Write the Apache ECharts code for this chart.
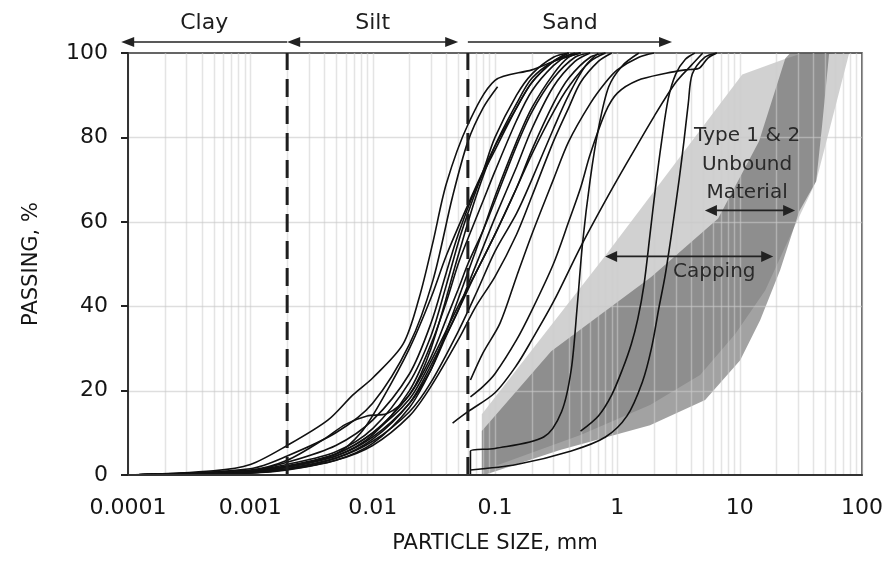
<!DOCTYPE html>
<html>
<head>
<meta charset="utf-8">
<script src="https://cdn.jsdelivr.net/npm/echarts@6/dist/echarts.min.js"></script>
<style>
  html, body { margin: 0; padding: 0; background: #fff; }
  #chart { width: 889px; height: 563px; }
</style>
</head>
<body>
<div id="chart"></div>
<script>
const FONT = '"DejaVu Sans", "Liberation Sans", sans-serif';

// Axis tick labels
const xTickLabels = ['0.0001', '0.001', '0.01', '0.1', '1', '10', '100'];
const yTickValues = [0, 20, 40, 60, 80, 100];

// Soil class bands along the top (particle size, mm)
const soilClassNames = ['Clay', 'Silt', 'Sand'];
const soilClassRanges = [[0.000088, 0.002], [0.002, 0.05], [0.06, 2.8]];
const soilClassHeads = [[true, false], [true, true], [false, true]];
const soilBoundaries = [0.002, 0.06];

// Specification envelopes [size mm, % passing]
const cappingEnvelope = [
  [0.078, 1.2], [0.078, 14.4], [0.78, 51.6], [10.5, 94.9], [24, 98.7], [33, 100],
  [78.6, 100], [42.2, 69.6], [28.4, 59.2], [16.2, 43.8], [9.2, 33.4], [4.75, 23.7],
  [1.85, 16.6], [0.5, 9.5], [0.0815, 1.2]
];
const type12Envelope = [
  [0.078, 0], [0.078, 10.4], [0.288, 29.3], [1.89, 46.9], [6.67, 60.8], [14.4, 79.1],
  [23.6, 98.7], [25.9, 100], [53.9, 100], [47.3, 83.1], [42.2, 69.6], [30.7, 62.5],
  [21.4, 48.5], [14.7, 36.7], [10.1, 27.2], [5.22, 17.8], [1.85, 11.8], [0.34, 5.9],
  [0.0815, 0]
];

// Range annotations: [from mm, to mm, % passing]
const type12Range = [5.2, 28.4, 62.7];
const cappingRange = [0.795, 18.8, 51.8];
const envelopeLabels = [
  { text: 'Type 1 & 2', at: [11.5, 80.3] },
  { text: 'Unbound', at: [11.5, 73.6] },
  { text: 'Material', at: [11.5, 66.8] },
  { text: 'Capping', at: [6.2, 48.2] }
];

// Grading curves of the tested soils [size mm, % passing]
const fine01 = [[0.0001,0],[0.0005,1],[0.001,2.5],[0.002,7],[0.0043,13],[0.0069,19],[0.01,23],[0.0177,31],[0.024,42],[0.031,55],[0.04,69],[0.06,83],[0.1,93.5],[0.2,96],[0.3,98],[0.5,100]];
const fine02 = [[0.0001,0],[0.001,1.5],[0.002,4.5],[0.005,10],[0.01,17],[0.02,31],[0.031,46],[0.045,66],[0.06,79],[0.08,87],[0.105,92]];
const fine03 = [[0.0001,0],[0.001,1.2],[0.002,3.5],[0.004,8.5],[0.006,12],[0.009,14],[0.013,14.5],[0.02,19],[0.03,30],[0.05,52],[0.07,66],[0.1,78],[0.15,88],[0.2,94],[0.3,98],[0.45,100]];
const fine04 = [[0.0001,0],[0.0005,0.5],[0.001,1],[0.002,2.5],[0.005,5.5],[0.01,11],[0.02,22],[0.03,33],[0.04,45],[0.05,55],[0.06,62],[0.08,72],[0.1,80],[0.15,90],[0.2,95],[0.3,99],[0.4,100]];
const fine05 = [[0.0001,0],[0.001,1],[0.002,2],[0.005,5],[0.01,10],[0.02,19],[0.03,28],[0.04,37],[0.05,44],[0.06,50],[0.08,58],[0.1,65],[0.15,78],[0.2,86],[0.3,94],[0.45,99],[0.6,100]];
const fine06 = [[0.0001,0],[0.001,0.8],[0.002,2],[0.005,4.5],[0.01,9],[0.02,17],[0.03,25],[0.04,33],[0.05,39],[0.06,45],[0.08,54],[0.1,61],[0.15,73],[0.2,82],[0.3,92],[0.45,98],[0.6,100]];
const fine07 = [[0.0001,0],[0.001,1],[0.002,2.2],[0.005,5],[0.01,10],[0.02,18],[0.03,27],[0.05,40],[0.07,48],[0.1,57],[0.15,68],[0.2,77],[0.3,88],[0.4,94],[0.6,99],[0.8,100]];
const fine08 = [[0.0001,0],[0.001,0.7],[0.002,1.5],[0.005,4],[0.01,8],[0.02,15],[0.03,22],[0.05,34],[0.07,43],[0.1,53],[0.15,62],[0.2,70],[0.3,82],[0.4,90],[0.55,97],[0.7,100]];
const fine09 = [[0.0001,0],[0.001,0.5],[0.002,1.2],[0.005,3.5],[0.01,7.5],[0.02,16],[0.03,25],[0.04,34],[0.06,48],[0.08,58],[0.1,66],[0.15,79],[0.2,87],[0.3,95],[0.4,99],[0.5,100]];
const fine10 = [[0.0001,0],[0.001,0.8],[0.002,2],[0.005,5],[0.008,10],[0.012,18],[0.02,30],[0.03,42],[0.04,52],[0.06,64],[0.08,72],[0.1,78],[0.15,87],[0.2,93],[0.3,98],[0.4,100]];
const fine11 = [[0.0001,0],[0.001,1],[0.002,3],[0.005,7],[0.01,13],[0.02,24],[0.03,36],[0.04,48],[0.05,57],[0.07,68],[0.1,77],[0.15,87],[0.2,93],[0.3,98],[0.4,100]];
const fine12 = [[0.0001,0],[0.001,0.5],[0.002,1.5],[0.005,4],[0.01,8.5],[0.02,17],[0.03,26],[0.05,39],[0.07,48],[0.1,57],[0.15,68],[0.2,76],[0.3,86],[0.4,92],[0.6,98],[0.8,100]];
const fine13 = [[0.0001,0],[0.001,0.6],[0.002,1.8],[0.005,4.5],[0.01,9.5],[0.02,20],[0.03,31],[0.04,41],[0.05,50],[0.06,56],[0.08,65],[0.1,72],[0.15,84],[0.2,91],[0.3,97],[0.4,99.5],[0.5,100]];
const fine14 = [[0.0001,0],[0.001,0.5],[0.002,1.3],[0.005,3.5],[0.01,7],[0.02,14],[0.03,21],[0.05,32],[0.07,40],[0.1,47],[0.15,57],[0.2,66],[0.3,79],[0.4,87],[0.5,93],[0.7,98],[0.9,100]];
const sand01 = [[0.045,12.3],[0.06,15],[0.1,19.5],[0.15,26],[0.2,32],[0.3,41],[0.5,54],[0.8,65],[1.2,74],[2,85],[3,93],[4,97],[5,100]];
const sand02 = [[0.063,18.5],[0.08,21],[0.1,24],[0.15,32],[0.2,39],[0.3,50],[0.4,60],[0.5,68],[0.6,76],[0.8,86],[1,90.5],[1.46,93.5],[2.5,95.2],[3.6,96],[4.6,96.3],[5.5,98.8],[6.5,100]];
const sand03 = [[0.063,22.5],[0.08,29],[0.11,36],[0.15,47],[0.2,57],[0.3,70],[0.4,79],[0.6,88],[0.8,93],[1,96],[1.5,99],[2,100]];
const sand04 = [[0.063,0],[0.063,5.7],[0.1,6.3],[0.25,9],[0.35,15],[0.42,25],[0.47,40],[0.52,55],[0.6,70],[0.7,82],[0.85,92],[1.1,97],[1.5,100]];
const sand05 = [[0.063,1.2],[0.15,2.5],[0.42,5.7],[0.8,9],[1.2,14],[1.6,22],[1.9,30],[2.2,40],[2.45,47],[2.8,58],[3.2,70],[3.5,79],[3.8,88],[4.1,95],[5.2,99],[6.5,100]];
const sand06 = [[0.5,10.4],[0.7,14],[0.9,19],[1.1,25],[1.3,31],[1.47,37],[1.65,45],[1.85,57],[2.05,68],[2.3,79],[2.6,89],[3,95],[3.6,98.5],[4.3,100]];

const gradingCurves = [
  fine01, fine02, fine03, fine04, fine05, fine06, fine07, fine08, fine09, fine10,
  fine11, fine12, fine13, fine14, sand01, sand02, sand03, sand04, sand05, sand06
];

// Light grid: every 1..9 step of each decade, plus the horizontal ticks
const verticalGrid = [];
for (let e = -4; e <= 1; e++) {
  for (let k = 1; k <= 9; k++) verticalGrid.push(k * Math.pow(10, e));
}
verticalGrid.push(100);
const horizontalGrid = [20, 40, 60, 80];

const chart = echarts.init(document.getElementById('chart'), null, { renderer: 'canvas' });

function lineEl(a, b, style) {
  return { type: 'line', shape: { x1: a[0], y1: a[1], x2: b[0], y2: b[1] }, style: style };
}
function headEl(tip, dir, len, half, color) {
  return {
    type: 'polygon',
    shape: { points: [[tip[0], tip[1]], [tip[0] - dir * len, tip[1] - half], [tip[0] - dir * len, tip[1] + half]] },
    style: { fill: color }
  };
}
function rangeArrow(api, x1, x2, y, heads, color, len, half, width) {
  const a = api.coord([x1, y]);
  const b = api.coord([x2, y]);
  const out = [lineEl([a[0] + (heads[0] ? len * 0.6 : 0), a[1]], [b[0] - (heads[1] ? len * 0.6 : 0), b[1]], { stroke: color, lineWidth: width })];
  if (heads[0]) out.push(headEl(a, -1, len, half, color));
  if (heads[1]) out.push(headEl(b, 1, len, half, color));
  return out;
}

const series = [];

// Shaded specification envelopes
series.push({
  type: 'custom', name: 'envelopes', z: 1, silent: true, data: [[1, 50]],
  renderItem: function (params, api) {
    return {
      type: 'group',
      children: [
        { type: 'polygon', shape: { points: cappingEnvelope.map(p => api.coord(p)) }, style: { fill: 'rgba(90,90,90,0.28)' } },
        { type: 'polygon', shape: { points: type12Envelope.map(p => api.coord(p)) }, style: { fill: 'rgba(90,90,90,0.56)' } }
      ]
    };
  }
});

// Grid lines drawn over the envelopes
series.push({
  type: 'custom', name: 'grid', z: 2, silent: true, data: [[1, 50]],
  renderItem: function (params, api) {
    const children = [];
    verticalGrid.forEach(v => {
      const a = api.coord([v, 0]), b = api.coord([v, 100]);
      const x = Math.round(a[0]) + 0.5;
      children.push(lineEl([x, a[1]], [x, b[1]], { stroke: 'rgba(205,205,205,0.55)', lineWidth: 1.5 }));
    });
    horizontalGrid.forEach(v => {
      const a = api.coord([0.0001, v]), b = api.coord([100, v]);
      const y = Math.round(a[1]) + 0.5;
      children.push(lineEl([a[0], y], [b[0], y], { stroke: 'rgba(200,200,200,0.6)', lineWidth: 1.5 }));
    });
    return { type: 'group', children: children };
  }
});

// Grading curves
gradingCurves.forEach((curve, i) => {
  series.push({
    type: 'line', name: 'soil ' + (i + 1), data: curve, z: 3, silent: true,
    showSymbol: false, smooth: 0.3, clip: true,
    lineStyle: { color: '#111', width: 1.6 }
  });
});

// Class boundaries, class bands and envelope annotations
series.push({
  type: 'custom', name: 'annotations', z: 4, silent: true, clip: false, data: [[1, 50]],
  renderItem: function (params, api) {
    const children = [];
    soilBoundaries.forEach(v => {
      const a = api.coord([v, 0]), b = api.coord([v, 100]);
      children.push(lineEl(a, b, { stroke: '#1e1e1e', lineWidth: 3, lineDash: [18, 9] }));
    });
    soilClassNames.forEach((name, i) => {
      const r = soilClassRanges[i];
      children.push(...rangeArrow(api, r[0], r[1], 102.6, soilClassHeads[i], '#222', 13, 5, 1.6));
      const a = api.coord([r[0], 102.6]), b = api.coord([r[1], 102.6]);
      children.push({
        type: 'text',
        style: { text: name, x: (a[0] + b[0]) / 2, y: a[1] - 19, align: 'center', verticalAlign: 'middle',
                 fontSize: 22, fontFamily: FONT, fill: '#1e1e1e' }
      });
    });
    [type12Range, cappingRange].forEach(r => {
      children.push(...rangeArrow(api, r[0], r[1], r[2], [true, true], '#222', 12, 5.5, 1.6));
    });
    envelopeLabels.forEach(l => {
      const p = api.coord(l.at);
      children.push({
        type: 'text',
        style: { text: l.text, x: p[0], y: p[1], align: 'center', verticalAlign: 'middle',
                 fontSize: 20, fontFamily: FONT, fill: '#2a2a2a' }
      });
    });
    return { type: 'group', children: children };
  }
});

chart.setOption({
  animation: false,
  backgroundColor: '#fff',
  grid: { left: 128, right: 27, top: 53, bottom: 88, show: true, borderColor: '#333', borderWidth: 1.5, backgroundColor: 'transparent' },
  xAxis: {
    type: 'log', logBase: 10, min: 0.0001, max: 100, splitNumber: 6, z: 10,
    axisLine: { show: true, lineStyle: { color: '#333', width: 2 } },
    axisTick: { show: false },
    splitLine: { show: false },
    axisLabel: {
      formatter: v => xTickLabels[Math.round(Math.log10(v)) + 4],
      fontSize: 22, color: '#151515', fontFamily: FONT, margin: 22,
      showMinLabel: true, showMaxLabel: true
    },
    name: 'PARTICLE SIZE, mm', nameLocation: 'middle', nameGap: 58,
    nameTextStyle: { fontSize: 21, color: '#151515', fontFamily: FONT }
  },
  yAxis: {
    type: 'value', min: yTickValues[0], max: yTickValues[yTickValues.length - 1], interval: 20, z: 10,
    axisLine: { show: true, lineStyle: { color: '#333', width: 2 } },
    axisTick: { show: true, inside: false, length: 7, lineStyle: { color: '#222', width: 2 } },
    splitLine: { show: false },
    axisLabel: { fontSize: 22, color: '#151515', fontFamily: FONT, margin: 20 },
    name: 'PASSING, %', nameLocation: 'middle', nameGap: 86, nameRotate: 90,
    nameTextStyle: { fontSize: 21, color: '#151515', fontFamily: FONT }
  },
  series: series
});
</script>
</body>
</html>
